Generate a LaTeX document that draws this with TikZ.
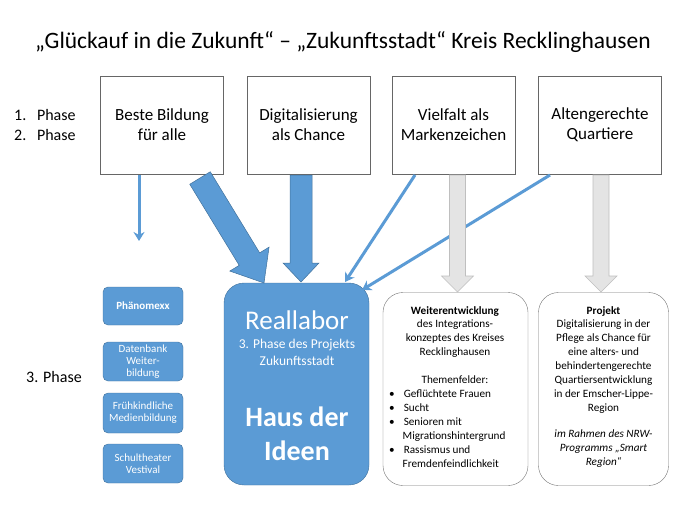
\documentclass[tikz,border=0pt]{standalone}
\usepackage{fontspec}
\setmainfont{Carlito}
\usetikzlibrary{calc,arrows.meta}
\definecolor{bl}{HTML}{5B9BD5}
\definecolor{bld}{HTML}{41719C}
\definecolor{gf}{HTML}{E4E4E4}
\definecolor{gd}{HTML}{BFBFBF}
\newcommand\fatarrow[7]{%
\coordinate (fS) at (#1); \coordinate (fE) at (#2);
\coordinate (fH) at ($(fE)!#5pt!(fS)$);
\path[#6] ($(fS)!#3pt!90:(fE)$) -- ($(fH)!#3pt!-90:(fS)$) -- ($(fH)!#4pt!-90:(fS)$) -- (fE)
 -- ($(fH)!#4pt!90:(fS)$) -- ($(fH)!#3pt!90:(fS)$) -- ($(fS)!#3pt!-90:(fE)$) -- cycle;}
\begin{document}
\begin{tikzpicture}[x=1pt,y=-1pt,
 top/.style={draw=black!60,line width=0.6pt,fill=white,align=center,font=\fontsize{17}{20}\selectfont,inner sep=0,minimum width=123pt,minimum height=98pt},
 small/.style={draw=bld,fill=bl,rounded corners=5pt,text=white,align=center,font=\fontsize{11}{12}\selectfont,minimum width=80pt,inner sep=0},
 side/.style={draw=black!55,rounded corners=20pt,align=center,inner sep=0},
 sidetext/.style={align=center,font=\fontsize{11.2}{13.9}\selectfont,inner sep=0},
 thin/.style={draw=bl,line width=3pt,-{Stealth[length=9pt,width=11pt]}},
 blarrow/.style={fill=bl,draw=bld,line width=0.5pt},
 grarrow/.style={fill=gf,draw=gd,line width=0.6pt}]
\useasboundingbox (0,0) rectangle (700,525);
\node[font=\fontsize{23.5}{28}\selectfont] (title) at (343,42) {„Glückauf in die Zukunft“ – „Zukunftsstadt“ Kreis Recklinghausen};
\node[anchor=west,font=\fontsize{16}{20}\selectfont,align=left,inner sep=0] (ph12) at (14,125) {1.\enspace\,Phase\\2.\enspace\,Phase};
\node[font=\fontsize{16}{20}\selectfont] (ph3) at (54,377) {3. Phase};
\node[top] (b1) at (162,125) {Beste Bildung\\für alle};
\node[top] (b2) at (308.5,125) {Digitalisierung\\als Chance};
\node[top] (b3) at (453.5,125) {Vielfalt als\\Markenzeichen};
\node[top] (b4) at (600,125) {Altengerechte\\Quartiere};
\node[small,minimum height=38pt] (s1) at (143,306) {\textbf{Phänomexx}};
\node[small,minimum height=39pt] (s2) at (143,361.5) {Datenbank\\Weiter-\\bildung};
\node[small,minimum height=40pt] (s3) at (143,413) {Frühkindliche\\Medienbildung};
\node[small,minimum height=39pt] (s4) at (143,463.5) {Schultheater\\Vestival};
\node[draw=bld,fill=bl,rounded corners=20pt,minimum width=145pt,minimum height=202pt,inner sep=0] (real) at (296.5,384) {};
\node[text=white,align=center,inner sep=0,font=\fontsize{27}{32}\selectfont] (realt1) at (297,320) {Reallabor};
\node[text=white,align=center,inner sep=0,font=\fontsize{13.5}{17}\selectfont] (realt2) at (297,352) {3. Phase des Projekts\\Zukunftsstadt};
\node[text=white,align=center,inner sep=0,font=\fontsize{28}{34}\selectfont\bfseries] (realt3) at (297,434) {Haus der\\Ideen};
\node[side,minimum width=145pt,minimum height=193pt] (w) at (455.5,389) {};
\node[sidetext,anchor=north] (wt) at (455,306) {\textbf{Weiterentwicklung}\\des Integrations-\\konzeptes des Kreises\\Recklinghausen\\[14pt]Themenfelder:};
\node[anchor=north west,align=left,font=\fontsize{11.2}{13.9}\selectfont,inner sep=0] (wl) at (389,390)
 {•\hspace{9pt}Geflüchtete Frauen\\•\hspace{9pt}Sucht\\•\hspace{9pt}Senioren mit\\\hspace{13.5pt}Migrationshintergrund\\•\hspace{9pt}Rassismus und\\\hspace{13.5pt}Fremdenfeindlichkeit};
\node[side,minimum width=130pt,minimum height=193pt] (p) at (603.5,389) {};
\node[sidetext,anchor=north] (pt) at (603.5,306) {\textbf{Projekt}\\Digitalisierung in der\\Pflege als Chance für\\eine alters- und\\behindertengerechte\\Quartiersentwicklung\\in der Emscher-Lippe-\\Region\\[12pt]\textit{im Rahmen des NRW-}\\\textit{Programms „Smart}\\\textit{Region“}};
% arrows
\draw[thin] (139,175) -- (139,241);
\fatarrow{200,178}{264,283}{12}{23}{28}{blarrow}{}
\fatarrow{301,175}{301,282}{11}{18}{19}{blarrow}{}
\draw[thin] (415,175) -- (345,282);
\draw[thin] (550,175) -- (362,290);
\fatarrow{457.5,175}{457.5,292}{8}{16}{16}{grarrow}{}
\fatarrow{601,175}{601,292}{8}{16}{16}{grarrow}{}
\end{tikzpicture}
\end{document}
